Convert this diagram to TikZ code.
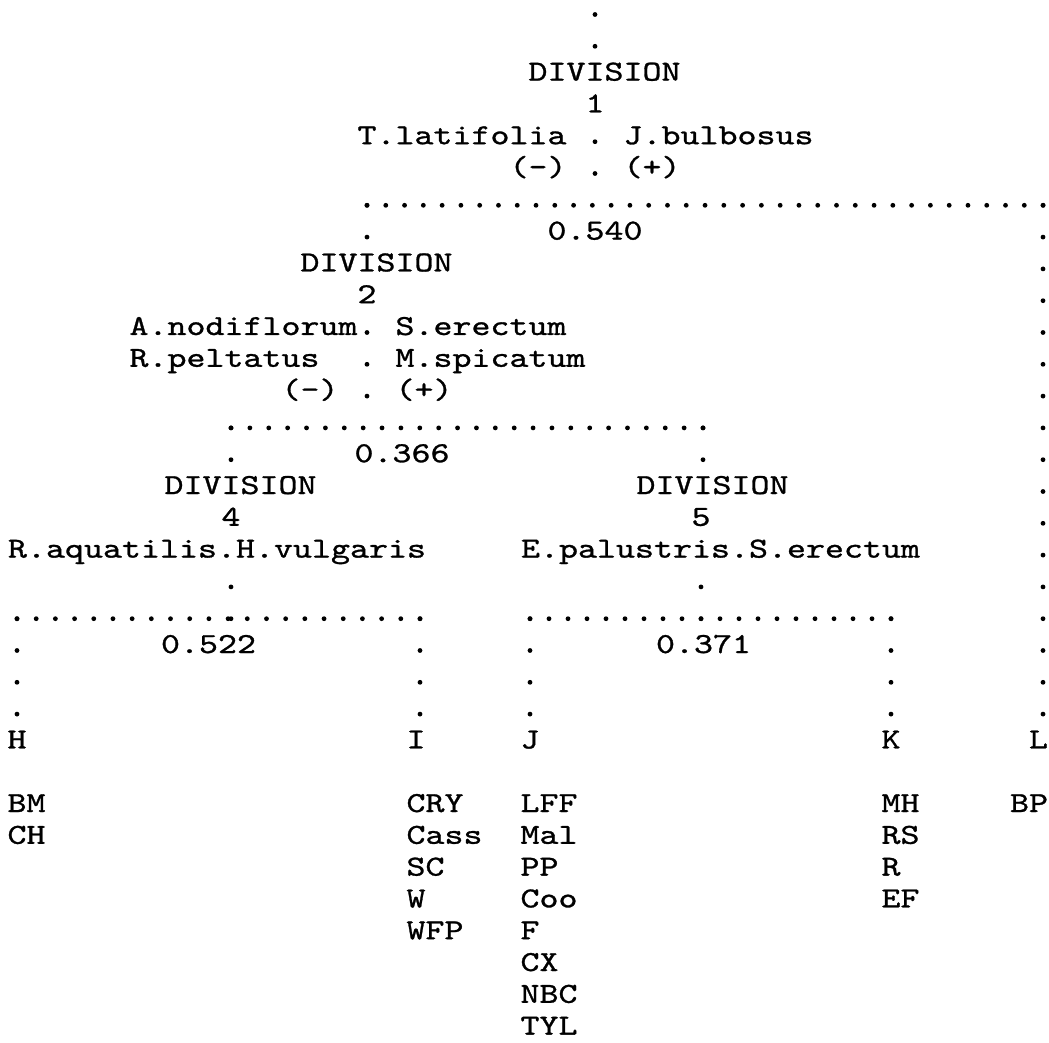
\documentclass[tikz,border=0pt]{standalone}
\usepackage{fontspec}
\usepackage{tikz}
\newfontfamily\twfont{lmmono10-regular.otf}[FakeStretch=1.248, FakeBold=1]

\tikzset{
  txt/.style={font=\twfont\fontsize{14.5pt}{16pt}\selectfont, anchor=base west, inner sep=0pt, outer sep=0pt},
  vdots/.style={line width=2.4pt, line cap=round, dash pattern=on 0pt off 15.9pt, shorten >=-0.3pt},
  hdots/.style={line width=2.4pt, line cap=round, dash pattern=on 0pt off #1, shorten >=-0.3pt}
}

\begin{document}
\begin{tikzpicture}[x=0.5pt, y=0.5pt]
  \useasboundingbox (0,0) rectangle (1049,-1043);

  % division 1
  \coordinate (t0) at (595,-14.5);
  \coordinate (t1) at (595,-46.3);
  \coordinate (c1a) at (595,-141.7);
  \coordinate (c1b) at (595,-173.5);
  \coordinate (h1l) at (367,-205.3);
  \coordinate (h1r) at (1043,-205.3);
  \coordinate (c2top) at (367,-237.1);
  \coordinate (rgt) at (1043,-714.1);
  \node[txt] (div1) at (528.5,-80.6) {DIVISION};
  \node[txt] (num1) at (585.5,-112.4) {1};
  \node[txt] (spl1) at (357.5,-144.2) {T.latifolia};
  \node[txt] (spr1) at (623.5,-144.2) {J.bulbosus};
  \node[txt] (sgnl1) at (509.5,-176) {(-)};
  \node[txt] (sgnr1) at (623.5,-176) {(+)};
  \node[txt] (eig1) at (547.5,-239.6) {0.540};
  \draw[vdots] (t0) -- (t1);
  \draw[vdots] (c1a) -- (c1b);
  \draw[hdots=9.39pt] (h1l) -- (h1r);
  \draw[vdots] (h1l) -- (c2top);
  \draw[vdots] (h1r) -- (rgt);

  % division 2
  \coordinate (c2a) at (367,-332.5);
  \coordinate (c2b) at (367,-396.1);
  \coordinate (h2l) at (231,-427.9);
  \coordinate (h2r) at (703,-427.9);
  \coordinate (c4top) at (231,-459.7);
  \coordinate (c5top) at (703,-459.7);
  \node[txt] (div2) at (300.5,-271.4) {DIVISION};
  \node[txt] (num2) at (357.5,-303.2) {2};
  \node[txt] (spl2a) at (129.5,-335) {A.nodiflorum};
  \node[txt] (spr2a) at (395.5,-335) {S.erectum};
  \node[txt] (spl2b) at (129.5,-366.8) {R.peltatus};
  \node[txt] (spr2b) at (395.5,-366.8) {M.spicatum};
  \node[txt] (sgnl2) at (281.5,-398.6) {(-)};
  \node[txt] (sgnr2) at (395.5,-398.6) {(+)};
  \node[txt] (eig2) at (354.5,-462.2) {0.366};
  \draw[vdots] (c2a) -- (c2b);
  \draw[hdots=9.44pt] (h2l) -- (h2r);
  \draw[vdots] (h2l) -- (c4top);
  \draw[vdots] (h2r) -- (c5top);

  % divisions 4 and 5
  \coordinate (c4a) at (231,-586.9);
  \coordinate (c4b) at (231,-618.7);
  \coordinate (c5a) at (701,-586.9);
  \coordinate (c5b) at (701,-618.7);
  \coordinate (h4l) at (17,-618.7);
  \coordinate (h4r) at (420,-618.7);
  \coordinate (h5l) at (530,-618.7);
  \coordinate (h5r) at (891,-618.7);
  \coordinate (eH) at (17,-714.1);
  \coordinate (eI) at (420,-714.1);
  \coordinate (eJ) at (530,-714.1);
  \coordinate (eK) at (891,-714.1);
  \node[txt] (div4) at (164.5,-494) {DIVISION};
  \node[txt] (num4) at (221.5,-525.8) {4};
  \node[txt] (div5) at (636.5,-494) {DIVISION};
  \node[txt] (num5) at (691.5,-525.8) {5};
  \node[txt] (sp4) at (8,-557.6) {R.aquatilis.H.vulgaris};
  \node[txt] (sp5) at (521,-557.6) {E.palustris.S.erectum};
  \node[txt] (eig4) at (161,-653) {0.522};
  \node[txt] (eig5) at (656,-653) {0.371};
  \draw[vdots] (c4a) -- (c4b);
  \draw[vdots] (c5a) -- (c5b);
  \draw[hdots=9.595pt] (h4l) -- (h4r);
  \draw[hdots=9.5pt] (h5l) -- (h5r);
  \draw[vdots] (h4l) -- (eH);
  \draw[vdots] (h4r) -- (eI);
  \draw[vdots] (h5l) -- (eJ);
  \draw[vdots] (h5r) -- (eK);

  % end groups
  \node[txt] (grpH) at (7.5,-748.4) {H};
  \node[txt] (grpI) at (406.5,-748.4) {I};
  \node[txt] (grpJ) at (520.5,-748.4) {J};
  \node[txt] (grpK) at (881.5,-748.4) {K};
  \node[txt] (grpL) at (1029,-748.4) {L};
  \foreach \s [count=\i from 0] in {BM,CH}
    \node[txt] (H-\i) at (7.5,{-812-31.8*\i}) {\s};
  \foreach \s [count=\i from 0] in {CRY,Cass,SC,W,WFP}
    \node[txt] (I-\i) at (406.5,{-812-31.8*\i}) {\s};
  \foreach \s [count=\i from 0] in {LFF,Mal,PP,Coo,F,CX,NBC,TYL}
    \node[txt] (J-\i) at (520.5,{-812-31.8*\i}) {\s};
  \foreach \s [count=\i from 0] in {MH,RS,R,EF}
    \node[txt] (K-\i) at (881.5,{-812-31.8*\i}) {\s};
  \node[txt] (L-0) at (1010,-812) {BP};
\end{tikzpicture}
\end{document}
